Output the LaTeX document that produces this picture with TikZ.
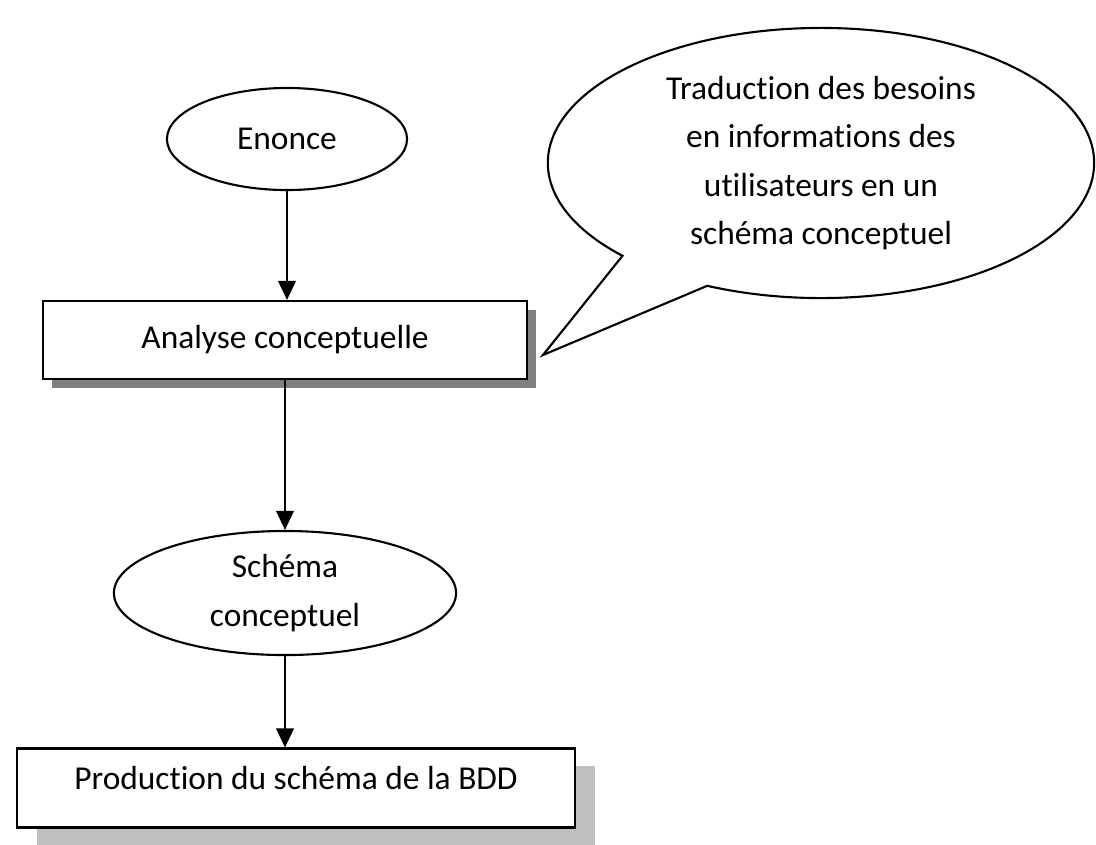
\documentclass[tikz,border=0pt]{standalone}
\usepackage{fontspec}
\setmainfont[Ligatures=NoCommon]{Carlito}
\usetikzlibrary{arrows.meta,shapes,shadows}

\begin{document}
\begin{tikzpicture}[x=0.01cm,y=-0.01cm,>={Triangle[length=5.4pt,width=5pt]},
  line width=0.6pt,font=\fontsize{9.5pt}{13.7pt}\selectfont,
  etat/.style={draw,ellipse,inner sep=0pt,align=center},
  tache/.style={draw,fill=white,rectangle,inner sep=0pt}]
\useasboundingbox (0,0) rectangle (1096,844);

\node[etat,minimum width=2.4cm,minimum height=1.02cm] (enonce) at (287,139) {Enonce};
\node[tache,minimum width=4.84cm,minimum height=0.78cm,
  drop shadow={shadow xshift=0.09cm,shadow yshift=-0.09cm,fill=black!50,opacity=1}] (analyse) at (285,340) {Analyse conceptuelle};
\node[etat,minimum width=3.42cm,minimum height=1.24cm] (schema) at (285,593) {Schéma\\conceptuel};
\node[tache,minimum width=5.57cm,minimum height=0.79cm,text depth=0.6em,
  drop shadow={shadow xshift=0.2cm,shadow yshift=-0.17cm,fill=black!25,opacity=1}] (production) at (296,788) {Production du schéma de la BDD};

\coordinate (bout) at (543,355);
\node[draw,ellipse callout,callout absolute pointer={(bout)},callout pointer arc=22,
  minimum width=5.46cm,minimum height=2.7cm,inner sep=0pt,align=center] (bulle) at (821,163)
  {Traduction des besoins\\en informations des\\utilisateurs en un\\schéma conceptuel};

\draw[->] (enonce) -- (enonce |- analyse.north);
\draw[->] (analyse.south) -- (analyse.south |- schema.north);
\draw[->] (schema) -- (schema |- production.north);

\end{tikzpicture}
\end{document}
